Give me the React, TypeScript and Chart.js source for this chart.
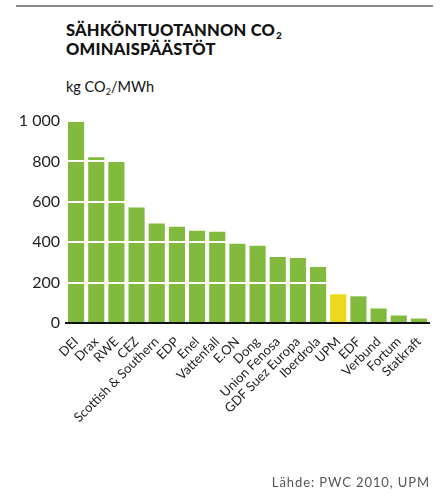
import React, { useEffect, useRef } from "react";
import { Chart, registerables } from "chart.js";

Chart.register(...registerables);

// Companies, ordered from the highest specific emissions down
const companies = [
  "DEI",
  "Drax",
  "RWE",
  "CEZ",
  "Scottish & Southern",
  "EDP",
  "Enel",
  "Vattenfall",
  "E.ON",
  "Dong",
  "Union Fenosa",
  "GDF Suez Europa",
  "Iberdrola",
  "UPM",
  "EDF",
  "Verbund",
  "Fortum",
  "Statkraft",
];

// kg CO2 per MWh of generated electricity
const emissions = [1000, 820, 797, 572, 492, 477, 457, 452, 392, 382, 327, 322, 277, 142, 132, 72, 37, 22];

const highlighted = "UPM";
const yTickValues = [0, 200, 400, 600, 800, 1000];

const GREEN = "#82ba3e";
const YELLOW = "#ecd81c";
const FONT = "Lato, 'Open Sans', sans-serif";

export default function App() {
  const canvasRef = useRef<HTMLCanvasElement | null>(null);

  useEffect(() => {
    const canvas = canvasRef.current;
    if (!canvas) return;
    const chart = new Chart(canvas, {
      type: "bar",
      data: {
        labels: companies,
        datasets: [
          {
            data: emissions,
            backgroundColor: companies.map((c) => (c === highlighted ? YELLOW : GREEN)),
            borderWidth: 0,
            barPercentage: 0.8,
            categoryPercentage: 1,
          },
        ],
      },
      options: {
        responsive: false,
        animation: false,
        devicePixelRatio: 1,
        layout: { padding: { top: 121, right: 17, left: 0, bottom: 0 } },
        plugins: {
          legend: { display: false },
          tooltip: { enabled: false },
          title: { display: false },
        },
        scales: {
          x: {
            grid: { display: false },
            border: { display: true, color: "#111", width: 2, z: 1 },
            ticks: {
              color: "#1e1e1e",
              font: { family: FONT, size: 13 },
              minRotation: 45,
              maxRotation: 45,
              autoSkip: false,
              padding: 3,
            },
            afterFit: (scale: any) => {
              scale.height = 175;
            },
          },
          y: {
            min: 0,
            max: 1000,
            afterBuildTicks: (scale: any) => {
              scale.ticks = yTickValues.map((v) => ({ value: v }));
            },
            grid: {
              z: 1,
              lineWidth: 2,
              drawTicks: false,
              color: (ctx: any) => (ctx.tick && ctx.tick.value === 0 ? "rgba(0,0,0,0)" : "#ffffff"),
            },
            border: { display: false },
            ticks: {
              color: "#1e1e1e",
              font: { family: FONT, size: 16 },
              padding: 6,
              callback: (v: any) => String(v).replace(/\B(?=(\d{3})+(?!\d))/g, " "),
            },
            afterFit: (scale: any) => {
              scale.width = 66;
            },
          },
        },
      },
    });
    return () => chart.destroy();
  }, []);

  return (
    <div
      style={{
        position: "absolute",
        left: 0,
        top: 0,
        width: 446,
        height: 498,
        background: "#fff",
        fontFamily: FONT,
        color: "#111",
        overflow: "hidden",
      }}
    >
      <div style={{ position: "absolute", left: 16, top: 5, width: 417, height: 2, background: "#8a8a8a" }} />
      <div
        style={{
          position: "absolute",
          left: 66,
          top: 22,
          fontSize: 16.5,
          fontWeight: 900,
          lineHeight: "16.5px",
          letterSpacing: 0.2,
        }}
      >
        <div>
          SÄHKÖNTUOTANNON CO
          <span style={{ fontSize: 10, position: "relative", top: 3, marginLeft: 1 }}>2</span>
        </div>
        <div>OMINAISPÄÄSTÖT</div>
      </div>
      <div style={{ position: "absolute", left: 66, top: 78, fontSize: 14.5, lineHeight: "18px" }}>
        kg CO<span style={{ fontSize: 9, position: "relative", top: 3 }}>2</span>/MWh
      </div>
      <canvas
        ref={canvasRef}
        width={446}
        height={498}
        style={{ position: "absolute", left: 0, top: 0, width: 446, height: 498 }}
      />
      <div
        style={{
          position: "absolute",
          right: 16,
          top: 474,
          fontSize: 13,
          color: "#555",
          letterSpacing: 0.9,
        }}
      >
        Lähde: PWC 2010, UPM
      </div>
    </div>
  );
}
